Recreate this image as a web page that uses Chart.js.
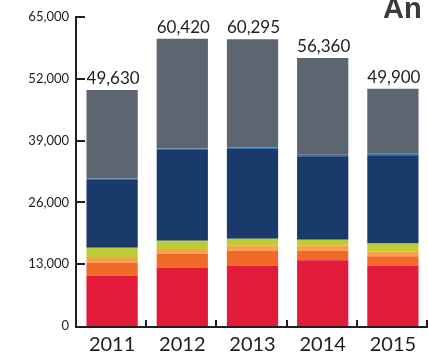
<!DOCTYPE html>
<html>
<head>
<meta charset="utf-8">
<script src="https://cdn.jsdelivr.net/npm/chart.js@4/dist/chart.umd.min.js"></script>
<style>
  body { margin: 0; background: #fff; }
  .wrap { width: 428px; height: 357px; position: relative; }
</style>
</head>
<body>
<div class="wrap"><canvas id="chart"></canvas></div>
<script>
// years and the stacked pieces, bottom to top
const years = ["2011", "2012", "2013", "2014", "2015"];
const red = [10625, 12290, 12710, 13810, 12710];
const orange = [2705, 2920, 3120, 2020, 1940];
const lightOrange = [1190, 970, 1110, 1110, 1040];
const lime = [1940, 1740, 1390, 1180, 1670];
const navy = [14230, 19080, 18880, 17570, 18540];
const blueLine = [350, 350, 350, 350, 350];
const grey = [18590, 23070, 22735, 20320, 13650];
const totals = [49630, 60420, 60295, 56360, 49900];

const yTicks = [0, 13000, 26000, 39000, 52000, 65000];
const axisColor = "#231f20";
const fontFamily = "Lato, 'Open Sans', sans-serif";

function fmt(v) {
  return v.toLocaleString("en-US");
}

// axis lines with inward ticks, totals above bars, and the cut-off title
const extras = {
  id: "extras",
  afterDraw(chart) {
    const ctx = chart.ctx;
    const area = chart.chartArea;
    const y = chart.scales.y;
    ctx.save();
    ctx.fillStyle = axisColor;

    const y0 = y.getPixelForValue(0);
    const yTop = y.getPixelForValue(65000);
    // axis lines as filled rects so they stay crisp
    ctx.fillRect(area.left - 2, yTop - 1, 2, y0 - yTop + 2);
    ctx.fillRect(area.left - 2, y0, chart.width - area.left + 2, 2);
    yTicks.forEach((t) => {
      if (t === 0) return;
      const py = Math.round(y.getPixelForValue(t));
      ctx.fillRect(area.left, py - 1, 8, 2);
    });
    const step = (area.right - area.left) / years.length;
    for (let i = 1; i <= years.length; i++) {
      const px = Math.round(area.left + i * step) - 2;
      ctx.fillRect(px, y0 - 6, 2, 6);
    }

    // totals
    const meta = chart.getDatasetMeta(chart.data.datasets.length - 1);
    ctx.fillStyle = "#1e1e1e";
    ctx.font = "17px " + fontFamily;
    ctx.textAlign = "center";
    ctx.textBaseline = "bottom";
    meta.data.forEach((bar, i) => {
      ctx.fillText(fmt(totals[i]), bar.x + 1, bar.y - 3);
    });

    // title, cut off by the right edge
    ctx.fillStyle = "#3a3a3a";
    ctx.font = "bold 29px 'Liberation Sans', Arial, sans-serif";
    ctx.textAlign = "left";
    ctx.textBaseline = "alphabetic";
    ctx.fillText("An", 383, 18);
    ctx.restore();
  },
};

function ds(data, color) {
  return { data: data, backgroundColor: color, borderWidth: 0 };
}

new Chart(document.getElementById("chart"), {
  type: "bar",
  data: {
    labels: years,
    datasets: [
      ds(red, "#e31b3b"),
      ds(orange, "#f26a27"),
      ds(lightOrange, "#f9a04a"),
      ds(lime, "#bdcd35"),
      ds(navy, "#1a3a6c"),
      ds(blueLine, "#3a72b0"),
      ds(grey, "#5d6670"),
    ],
  },
  options: {
    responsive: true,
    maintainAspectRatio: false,
    animation: false,
    barPercentage: 0.73,
    categoryPercentage: 1,
    layout: { padding: { top: 17, right: 0, left: 0, bottom: 0 } },
    plugins: {
      legend: { display: false },
      tooltip: { enabled: false },
    },
    scales: {
      x: {
        stacked: true,
        grid: { display: false, drawTicks: false },
        border: { display: false },
        ticks: {
          color: "#1e1e1e",
          padding: 7,
          font: { family: fontFamily, size: 20 },
        },
        afterFit(scale) {
          scale.height = 31;
        },
      },
      y: {
        stacked: true,
        min: 0,
        max: 65000,
        afterBuildTicks(scale) {
          scale.ticks = yTicks.map((v) => ({ value: v }));
        },
        grid: { display: false, drawTicks: false },
        border: { display: false },
        ticks: {
          color: "#1e1e1e",
          padding: 8,
          font: { family: fontFamily, size: 13 },
          callback: (v) => fmt(v),
        },
        afterFit(scale) {
          scale.width = 77;
        },
      },
    },
  },
  plugins: [extras],
});
</script>
</body>
</html>
